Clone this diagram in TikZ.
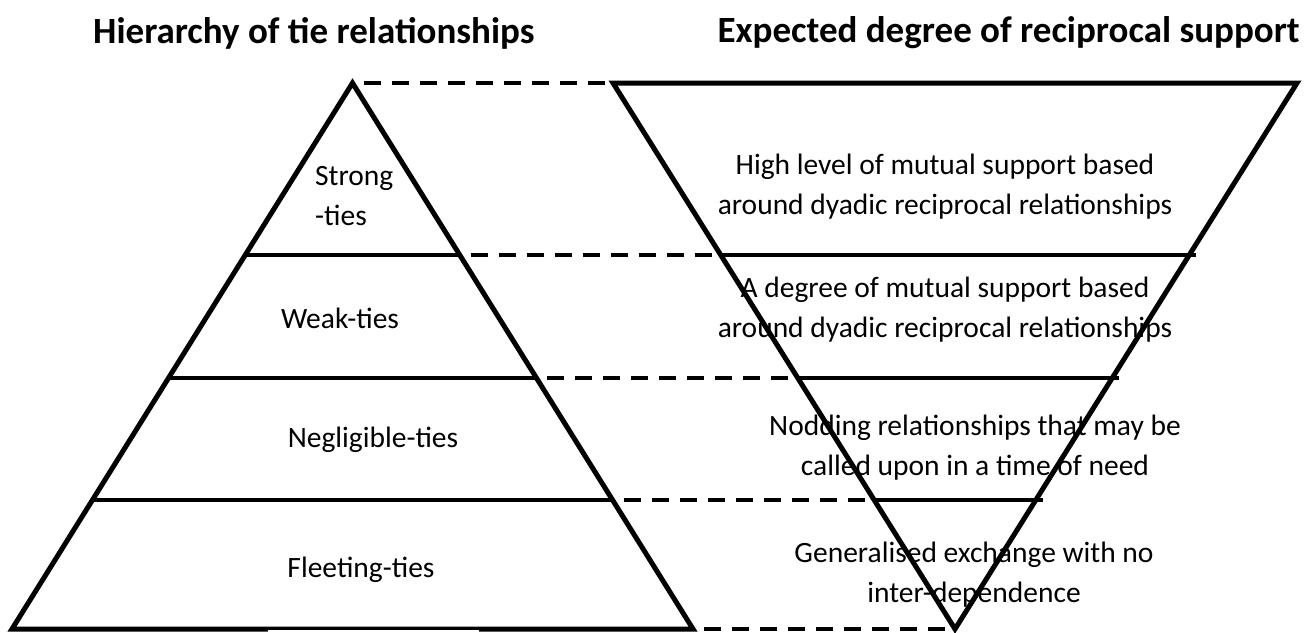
\documentclass[tikz,border=0pt]{standalone}
\usepackage{fontspec}
\setmainfont{Carlito}
\usetikzlibrary{calc}

\begin{document}
\begin{tikzpicture}[x=1pt, y=-1pt]
  \tikzset{
  heading/.style={
    font=\bfseries\fontsize{37}{44}\selectfont,
    inner sep=0pt
  },
  tielabel/.style={
    font=\fontsize{29.5}{40}\selectfont,
    align=center,
    inner sep=0pt
  },
  edge/.style={
    line width=5pt
  },
  sep/.style={
    line width=3.5pt
  },
  link/.style={
    line width=4pt,
    dash pattern=on 17pt off 11pt,
    dash phase=17pt
  }
}

\useasboundingbox (0,0) rectangle (1306,632);

% the two triangles
\coordinate (apex) at (352.5,83);
\coordinate (baseL) at (12,629);
\coordinate (baseR) at (693,629);
\coordinate (topL) at (613,83);
\coordinate (topR) at (1297,83);
\coordinate (tip) at (955,629);

\node [heading, anchor=west] (hierarchy) at (93,33) {Hierarchy of tie relationships};
\node [heading, anchor=east] (expected) at (1300,33) {Expected degree of reciprocal support};

\node [tielabel, anchor=west, align=left] (strong) at (315,196) {Strong\\-ties};
\node [tielabel] (weak) at (340,318) {Weak-ties};
\node [tielabel] (negligible) at (373,440) {Negligible-ties};
\node [tielabel] (fleeting) at (361,570) {Fleeting-ties};

\node [tielabel] (high) at (945,187) {High level of mutual support based\\around dyadic reciprocal relationships};
\node [tielabel] (degree) at (945,310) {A degree of mutual support based\\around dyadic reciprocal relationships};
\node [tielabel] (nodding) at (975,448) {Nodding relationships that may be\\called upon in a time of need};
\node [tielabel] (general) at (974,575) {Generalised exchange with no\\inter-dependence};

% levels: left edge, right edge of pyramid, then of the inverted one
\foreach \y [count=\l] in {255,378,500} {
  \pgfmathsetmacro\t{(\y-83)/546}
  \coordinate (pl-\l) at ($(apex)!\t!(baseL)$);
  \coordinate (pr-\l) at ($(apex)!\t!(baseR)$);
  \coordinate (il-\l) at ($(topL)!\t!(tip)$);
  \coordinate (ir-\l) at ($(topR)!\t!(tip)+(7,0)$);
}

\foreach \l in {1,2,3} {
  \draw [sep] (pl-\l) -- (pr-\l);
  \draw [link] (pr-\l) -- (il-\l);
  \draw [sep] (il-\l) -- (ir-\l);
}

\draw [link] (apex) -- (topL);
\draw [link] (baseR) -- (tip);

\draw [edge] (apex) -- (baseL) -- (baseR) -- cycle;
\draw [edge] (topL) -- (topR) -- (tip) -- cycle;

\fill [white] (268,630) rectangle (479,633);
\end{tikzpicture}
\end{document}
